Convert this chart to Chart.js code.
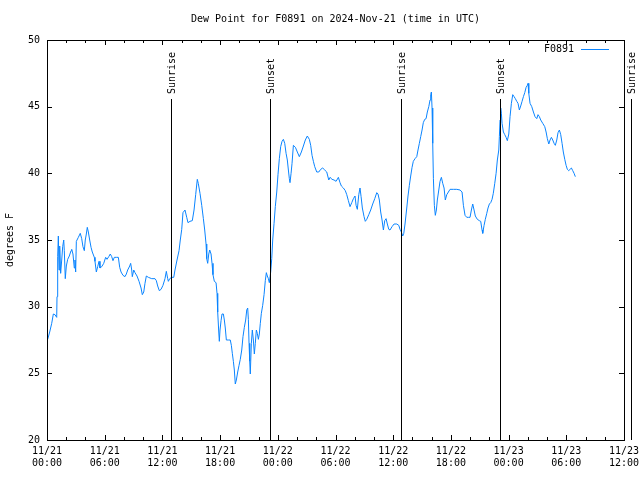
<!DOCTYPE html>
<html>
<head>
<meta charset="utf-8">
<script src="https://cdn.jsdelivr.net/npm/chart.js@4.4.1/dist/chart.umd.min.js"></script>
<style>
  html, body { margin: 0; padding: 0; background: #fff; }
  #wrap { width: 640px; height: 480px; }
</style>
</head>
<body>
<div id="wrap"><canvas id="chart" width="640" height="480"></canvas></div>
<script>
const station = "F0891";
const chartTitle = "Dew Point for F0891 on 2024-Nov-21 (time in UTC)";

// hours since 2024-11-21 00:00 UTC
const hours = [
  0.07, 0.28, 0.49, 0.66, 0.83, 1.01, 1.04, 1.11, 1.18, 1.25,
  1.32, 1.42, 1.53, 1.63, 1.74, 1.80, 1.90, 2.01, 2.15, 2.32,
  2.50, 2.57, 2.70, 2.84, 2.91, 2.98, 3.05, 3.26, 3.46, 3.61,
  3.74, 3.88, 3.98, 4.09, 4.19, 4.30, 4.44, 4.58, 4.71, 4.92,
  4.99, 5.13, 5.27, 5.41, 5.51, 5.69, 5.90, 6.10, 6.24, 6.42,
  6.58, 6.73, 6.86, 7.00, 7.21, 7.42, 7.56, 7.70, 7.90, 8.11,
  8.25, 8.39, 8.60, 8.70, 8.81, 8.87, 9.02, 9.15, 9.36, 9.57,
  9.78, 9.91, 10.06, 10.19, 10.33, 10.54, 10.89, 11.23, 11.37, 11.51,
  11.68, 11.86, 12.06, 12.27, 12.41, 12.55, 12.62, 12.76, 12.97, 13.18,
  13.31, 13.52, 13.73, 13.86, 14.01, 14.14, 14.35, 14.53, 14.66, 14.87,
  15.11, 15.29, 15.46, 15.63, 15.73, 15.91, 16.09, 16.26, 16.40, 16.54,
  16.61, 16.71, 16.82, 16.92, 17.06, 17.16, 17.26, 17.40, 17.58, 17.68,
  17.75, 17.86, 17.92, 17.99, 18.10, 18.20, 18.34, 18.44, 18.54, 18.65,
  18.86, 19.06, 19.17, 19.27, 19.38, 19.48, 19.58, 19.69, 19.83, 19.97,
  20.10, 20.25, 20.38, 20.52, 20.66, 20.77, 20.87, 20.94, 21.01, 21.08,
  21.14, 21.25, 21.35, 21.46, 21.56, 21.66, 21.77, 21.87, 21.98, 22.08,
  22.18, 22.29, 22.43, 22.57, 22.70, 22.81, 22.91, 23.02, 23.12, 23.26,
  23.37, 23.47, 23.61, 23.74, 23.89, 24.02, 24.16, 24.30, 24.44, 24.58,
  24.72, 24.86, 24.99, 25.10, 25.20, 25.27, 25.38, 25.48, 25.62, 25.83,
  26.03, 26.24, 26.45, 26.66, 26.86, 27.07, 27.28, 27.42, 27.56, 27.70,
  27.84, 28.05, 28.26, 28.46, 28.67, 28.88, 29.09, 29.30, 29.43, 29.64,
  29.85, 30.06, 30.30, 30.47, 30.61, 30.82, 31.02, 31.17, 31.34, 31.51,
  31.69, 31.86, 32.03, 32.14, 32.27, 32.42, 32.55, 32.66, 32.79, 32.97,
  33.10, 33.25, 33.46, 33.66, 33.87, 34.08, 34.29, 34.42, 34.56, 34.70,
  34.84, 34.98, 35.12, 35.26, 35.39, 35.54, 35.67, 35.88, 36.09, 36.37,
  36.58, 36.71, 36.85, 36.99, 37.10, 37.23, 37.41, 37.54, 37.68, 37.82,
  37.96, 38.09, 38.27, 38.45, 38.58, 38.72, 38.86, 39.00, 39.13, 39.28,
  39.42, 39.55, 39.70, 39.83, 39.90, 39.97, 40.04, 40.11, 40.18, 40.28,
  40.38, 40.49, 40.59, 40.74, 40.87, 41.01, 41.15, 41.29, 41.42, 41.57,
  41.74, 41.91, 42.26, 42.61, 42.95, 43.16, 43.30, 43.47, 43.65, 43.82,
  43.99, 44.13, 44.27, 44.41, 44.54, 44.75, 44.96, 45.10, 45.24, 45.31,
  45.45, 45.58, 45.73, 45.86, 46.00, 46.14, 46.28, 46.41, 46.56, 46.70,
  46.83, 46.98, 47.04, 47.11, 47.18, 47.25, 47.32, 47.46, 47.60, 47.74,
  47.87, 48.02, 48.15, 48.29, 48.43, 48.57, 48.70, 48.85, 48.98, 49.12,
  49.26, 49.40, 49.54, 49.68, 49.82, 49.95, 50.02, 50.10, 50.23, 50.41,
  50.58, 50.75, 50.93, 51.06, 51.20, 51.34, 51.55, 51.76, 51.90, 52.03,
  52.18, 52.31, 52.45, 52.59, 52.73, 52.86, 53.01, 53.14, 53.28, 53.42,
  53.56, 53.69, 53.84, 53.98, 54.11, 54.25, 54.39, 54.53, 54.67, 54.81,
  54.94
];

// dew point, degrees F
const dewPoint = [
  27.55, 28.1, 28.75, 29.45, 29.4, 29.2, 30.75, 33.75, 35.3, 32.75,
  34.55, 32.5, 33.5, 34.5, 35.0, 34.2, 32.1, 33.05, 33.55, 33.8,
  34.2, 34.3, 33.95, 32.9, 33.5, 32.6, 34.9, 35.2, 35.5, 35.1,
  34.5, 34.2, 35.0, 35.45, 35.95, 35.6, 35.0, 34.45, 34.1, 33.7,
  33.4, 32.6, 33.0, 33.4, 32.9, 33.0, 33.25, 33.7, 33.55, 33.75,
  33.95, 33.75, 33.45, 33.7, 33.7, 33.7, 32.95, 32.6, 32.35, 32.25,
  32.45, 32.75, 33.05, 33.25, 32.75, 32.25, 32.75, 32.55, 32.3, 31.9,
  31.4, 30.9, 31.1, 31.75, 32.3, 32.2, 32.1, 32.1, 31.95, 31.55,
  31.2, 31.3, 31.6, 32.1, 32.65, 32.1, 31.9, 32.1, 32.2, 32.2,
  32.75, 33.5, 34.2, 35.0, 35.8, 37.05, 37.25, 36.7, 36.3, 36.4,
  36.45, 37.25, 38.4, 39.55, 39.25, 38.5, 37.6, 36.6, 35.75, 34.7,
  33.6, 33.25, 33.95, 34.25, 33.95, 33.25, 32.4, 31.9, 31.8, 31.0,
  29.6, 28.1, 27.4, 28.25, 28.95, 29.45, 29.45, 29.0, 28.4, 27.5,
  27.5, 27.5, 27.1, 26.5, 25.9, 25.25, 24.2, 24.5, 25.1, 25.6,
  26.05, 26.75, 27.75, 28.45, 29.0, 29.75, 29.9, 29.05, 27.25, 25.9,
  24.95, 27.25, 28.25, 27.5, 26.45, 27.25, 28.25, 28.0, 27.55, 27.95,
  28.75, 29.5, 30.1, 30.9, 31.95, 32.55, 32.3, 32.1, 31.8, 32.6,
  33.6, 35.0, 36.25, 37.5, 38.6, 39.9, 41.1, 42.0, 42.4, 42.55,
  42.25, 41.5, 41.0, 40.25, 39.6, 39.3, 40.0, 40.75, 42.1, 41.95,
  41.6, 41.25, 41.6, 42.05, 42.5, 42.8, 42.55, 42.1, 41.35, 40.9,
  40.5, 40.1, 40.1, 40.3, 40.4, 40.25, 40.1, 39.5, 39.7, 39.55,
  39.5, 39.4, 39.7, 39.3, 39.05, 38.9, 38.7, 38.4, 37.95, 37.5,
  37.8, 38.1, 38.3, 37.6, 37.3, 38.4, 38.9, 38.25, 37.4, 36.75,
  36.4, 36.55, 36.9, 37.25, 37.7, 38.1, 38.55, 38.45, 38.0, 37.1,
  36.5, 35.75, 36.45, 36.6, 36.2, 35.8, 35.75, 36.0, 36.2, 36.2,
  36.1, 35.8, 35.6, 35.3, 35.5, 36.2, 37.4, 38.3, 39.1, 39.8,
  40.45, 40.9, 41.1, 41.25, 41.75, 42.25, 42.75, 43.25, 43.8, 44.05,
  44.1, 44.6, 45.0, 45.5, 45.9, 46.1, 44.9, 42.25, 39.6, 37.6,
  36.85, 37.25, 38.0, 38.75, 39.4, 39.7, 39.25, 38.9, 38.0, 38.4,
  38.6, 38.8, 38.8, 38.8, 38.75, 38.6, 37.6, 36.85, 36.7, 36.7,
  36.7, 37.25, 37.7, 37.25, 36.8, 36.55, 36.45, 36.4, 35.75, 35.5,
  36.1, 36.55, 37.0, 37.4, 37.7, 37.8, 38.05, 38.5, 39.25, 40.0,
  41.0, 41.75, 42.75, 44.0, 44.9, 44.5, 43.75, 43.1, 42.9, 42.7,
  42.45, 42.95, 44.25, 45.25, 45.9, 45.75, 45.6, 45.4, 45.25, 44.75,
  45.05, 45.4, 45.75, 46.05, 46.45, 46.6, 46.75, 46.0, 45.25, 45.0,
  44.6, 44.25, 44.1, 44.4, 44.25, 44.0, 43.75, 43.5, 43.1, 42.6,
  42.2, 42.5, 42.7, 42.5, 42.25, 42.1, 42.5, 43.05, 43.25, 42.9,
  42.25, 41.6, 41.05, 40.6, 40.3, 40.2, 40.3, 40.4, 40.2, 40.0,
  39.75
];

const xTickHours = [0, 6, 12, 18, 24, 30, 36, 42, 48, 54, 60];
const xTickDays = ["11/21", "11/21", "11/21", "11/21", "11/22", "11/22", "11/22", "11/22", "11/23", "11/23", "11/23"];
const xTickTimes = ["00:00", "06:00", "12:00", "18:00", "00:00", "06:00", "12:00", "18:00", "00:00", "06:00", "12:00"];
const xMinorHours = [2, 4, 8, 10, 14, 16, 20, 22, 26, 28, 32, 34, 38, 40, 44, 46, 50, 52, 56, 58];
const yTicks = [20, 25, 30, 35, 40, 45, 50];

const sunLabels = ["Sunrise", "Sunset", "Sunrise", "Sunset", "Sunrise"];
const sunHours = [12.93, 23.23, 36.85, 47.11, 60.69];

const lineColor = "#0a84ff";
const monoFont = { family: "'DejaVu Sans Mono', monospace", size: 10, weight: "normal" };

const points = hours.map((h, i) => ({ x: h, y: dewPoint[i] }));

// gnuplot style frame, inward tics, sun lines and legend
const framePlugin = {
  id: "frame",
  afterDatasetsDraw(chart) {
    const { ctx, chartArea: a, scales } = chart;
    const xs = scales.x, ys = scales.y;
    const px = (v) => Math.round(v) + 0.5;
    ctx.save();
    ctx.strokeStyle = "#000";
    ctx.lineWidth = 1;

    // sunrise / sunset markers
    const lineTop = a.top + 59;
    ctx.font = "10px 'DejaVu Sans Mono', monospace";
    ctx.fillStyle = "#000";
    sunHours.forEach((h, i) => {
      const x = px(xs.getPixelForValue(h));
      ctx.beginPath();
      ctx.moveTo(x, a.bottom);
      ctx.lineTo(x, lineTop);
      ctx.stroke();
      ctx.save();
      ctx.translate(x + 1, lineTop - 5);
      ctx.rotate(-Math.PI / 2);
      ctx.textAlign = "left";
      ctx.textBaseline = "middle";
      ctx.fillText(sunLabels[i], 0, 0);
      ctx.restore();
    });

    // border
    ctx.strokeRect(px(a.left), px(a.top), Math.round(a.right - a.left), Math.round(a.bottom - a.top));

    // tics
    ctx.beginPath();
    xTickHours.forEach((h) => {
      const x = px(xs.getPixelForValue(h));
      ctx.moveTo(x, a.bottom); ctx.lineTo(x, a.bottom - 5);
      ctx.moveTo(x, a.top); ctx.lineTo(x, a.top + 5);
    });
    xMinorHours.forEach((h) => {
      const x = px(xs.getPixelForValue(h));
      ctx.moveTo(x, a.bottom); ctx.lineTo(x, a.bottom - 3);
      ctx.moveTo(x, a.top); ctx.lineTo(x, a.top + 3);
    });
    yTicks.forEach((v) => {
      const y = px(ys.getPixelForValue(v));
      ctx.moveTo(a.left, y); ctx.lineTo(a.left + 5, y);
      ctx.moveTo(a.right, y); ctx.lineTo(a.right - 5, y);
    });
    ctx.stroke();

    // legend
    const ly = a.top + 9.5;
    ctx.textAlign = "right";
    ctx.textBaseline = "middle";
    ctx.fillText(station, a.right - 50, ly);
    ctx.strokeStyle = lineColor;
    ctx.beginPath();
    ctx.moveTo(a.right - 43, ly);
    ctx.lineTo(a.right - 15, ly);
    ctx.stroke();
    ctx.restore();
  }
};

new Chart(document.getElementById("chart"), {
  type: "line",
  data: {
    datasets: [{
      label: station,
      data: points,
      borderColor: lineColor,
      borderWidth: 1,
      pointRadius: 0,
      tension: 0,
      fill: false
    }]
  },
  options: {
    responsive: false,
    animation: false,
    devicePixelRatio: 1,
    layout: { padding: { left: 0, right: 16, top: 0, bottom: 0 } },
    plugins: {
      legend: { display: false },
      tooltip: { enabled: false },
      title: {
        display: true,
        text: chartTitle,
        fullSize: false,
        color: "#000",
        font: monoFont,
        padding: { top: 13, bottom: 15 }
      }
    },
    scales: {
      x: {
        type: "linear",
        min: 0,
        max: 60,
        afterFit: (s) => {
          s.height = 40;
          s.paddingLeft = 0;
          s.paddingRight = 0;
        },
        afterBuildTicks: (s) => { s.ticks = xTickHours.map((v) => ({ value: v })); },
        grid: { display: false, drawTicks: false },
        border: { display: false },
        ticks: {
          color: "#000",
          font: monoFont,
          padding: 5,
          maxRotation: 0,
          autoSkip: false,
          callback: (v) => {
            const i = xTickHours.indexOf(v);
            return [xTickDays[i], xTickTimes[i]];
          }
        }
      },
      y: {
        min: 20,
        max: 50,
        afterFit: (s) => {
          s.width = 47;
          s.paddingTop = 0;
          s.paddingBottom = 0;
        },
        afterBuildTicks: (s) => { s.ticks = yTicks.map((v) => ({ value: v })); },
        grid: { display: false, drawTicks: false },
        border: { display: false },
        title: {
          display: true,
          text: "degrees F",
          color: "#000",
          font: monoFont,
          padding: { top: 4, bottom: 0 }
        },
        ticks: { color: "#000", font: monoFont, padding: 7 }
      }
    }
  },
  plugins: [framePlugin]
});
</script>
</body>
</html>
